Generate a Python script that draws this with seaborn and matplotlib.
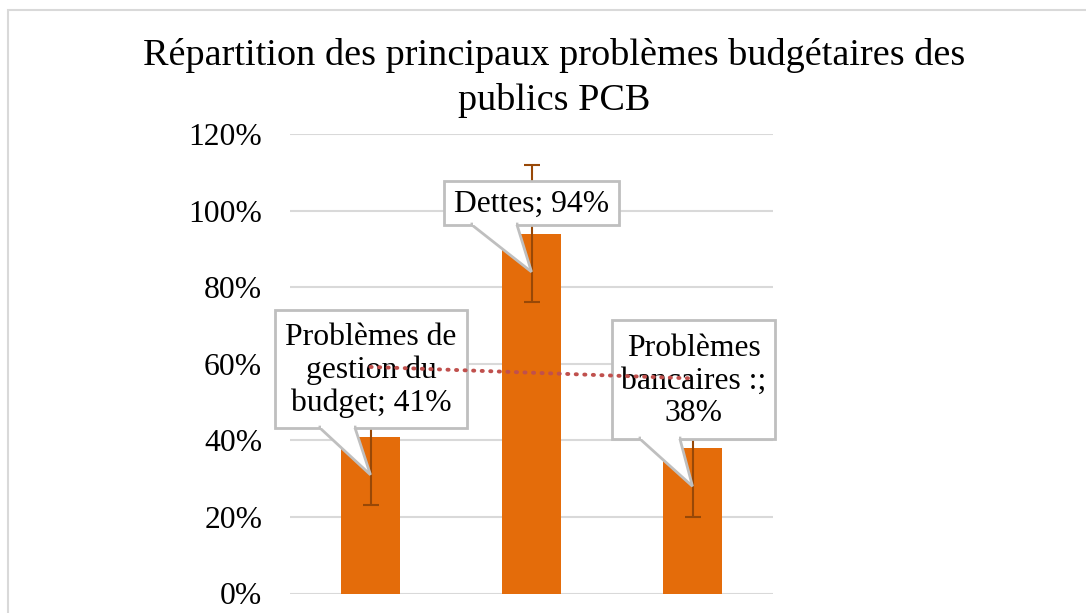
import matplotlib
matplotlib.use("Agg")
import matplotlib.pyplot as plt
import seaborn as sns
import numpy as np
import pandas as pd
from matplotlib.patches import Rectangle, Polygon
from matplotlib.ticker import FixedLocator

# ---- data ----
categories = ["Problèmes de gestion du budget", "Dettes", "Problèmes bancaires :"]
values = [0.41, 0.94, 0.38]
errors = [0.18, 0.18, 0.18]
label_texts = ["Problèmes de\ngestion du\nbudget; 41%", "Dettes; 94%", "Problèmes\nbancaires :;\n38%"]
y_ticks = [0.0, 0.2, 0.4, 0.6, 0.8, 1.0, 1.2]
y_tick_labels = ["0%", "20%", "40%", "60%", "80%", "100%", "120%"]
title = "Répartition des principaux problèmes budgétaires des\npublics PCB"

sns.set_theme(style="white")
plt.rcParams["font.family"] = ["Liberation Serif", "DejaVu Serif"]

W, H = 1086, 613
fig = plt.figure(figsize=(W / 100, H / 100), dpi=100)
fig.patch.set_facecolor("white")

# chart area border (partly cropped)
fig.add_artist(Rectangle((8 / W, -0.2), 1.5, 0.2 + 1 - 10 / H, transform=fig.transFigure,
                         fill=False, edgecolor="#D9D9D9", linewidth=1.5))

ax = fig.add_axes([290 / W, 1 - 593.5 / H, 483 / W, 459.5 / H])
df = pd.DataFrame({"cat": categories, "val": values})
sns.barplot(data=df, x="cat", y="val", color="#E46C0A", saturation=1, width=0.366,
            ax=ax, zorder=2)
for p in ax.patches:
    p.set_edgecolor("none")

xs = np.arange(len(categories))
ax.errorbar(xs, values, yerr=errors, fmt="none", ecolor="#984807", elinewidth=1.5,
            capsize=5.5, capthick=1.5, zorder=3)

ax.set_xlim(-0.5, 2.5)
ax.set_ylim(0, 1.2)
ax.yaxis.set_major_locator(FixedLocator(y_ticks))
ax.set_yticklabels(y_tick_labels, fontsize=22.8, color="black")
ax.tick_params(axis="y", length=0, pad=20)
ax.set_xticks([])
ax.set_xlabel("")
ax.set_ylabel("")
ax.grid(axis="y", color="#D9D9D9", linewidth=1.5, zorder=0)
ax.set_axisbelow(True)
for s in ax.spines.values():
    s.set_visible(False)

# callouts: (box x0, x1, y0, y1, base x left, base x right) in data units
boxes = [
    (-0.593, 0.599, 0.4323, 0.7405, -0.314, -0.096),
    (0.4565, 1.5435, 0.9625, 1.0775, 0.630, 0.910),
    (1.500, 2.5124, 0.4036, 0.7144, 1.674, 1.922),
]
edge = "#BFBFBF"
for i, (x0, x1, y0, y1, bl, br) in enumerate(boxes):
    rect = Rectangle((x0, y0), x1 - x0, y1 - y0, facecolor="white", edgecolor=edge,
                     linewidth=2, zorder=6, clip_on=False)
    ax.add_patch(rect)
    tip = (xs[i], values[i] - 0.10)
    tri = Polygon([(bl, y0 + 0.006), (bl, y0), tip, (br, y0), (br, y0 + 0.006)],
                  closed=False, facecolor="white", edgecolor=edge, linewidth=2,
                  zorder=7, clip_on=False, joinstyle="miter")
    ax.add_patch(tri)
    ax.add_patch(Polygon([(bl + 0.004, y0 + 0.008), (bl + 0.004, y0 - 0.001),
                          (br - 0.004, y0 - 0.001), (br - 0.004, y0 + 0.008)],
                         closed=True, facecolor="white", edgecolor="none", zorder=7.5,
                         clip_on=False))
    ax.text((x0 + x1) / 2, (y0 + y1) / 2 - 0.004, label_texts[i], ha="center", va="center",
            fontsize=22.8, color="black", linespacing=1.15, zorder=8, clip_on=False)

# linear trendline (drawn on top, as in the reference)
coef = np.polyfit(xs, values, 1)
ax.plot(xs[[0, -1]], np.polyval(coef, xs[[0, -1]]), linestyle=(0, (0.3, 1.9)),
        dash_capstyle="round", color="#C0504D", linewidth=2.8, zorder=9, clip_on=False)

fig.text(554 / W, 1 - 78 / H, title, ha="center", va="center", fontsize=27.5,
         color="black", linespacing=1.36)

fig.savefig("out.png", dpi=100, facecolor="white")
